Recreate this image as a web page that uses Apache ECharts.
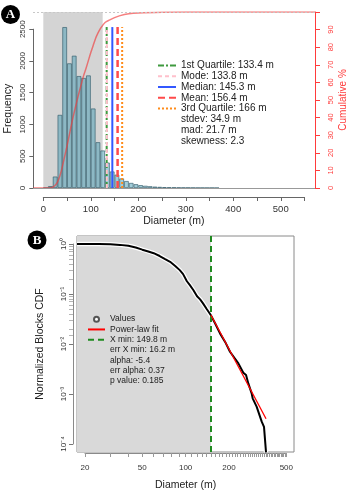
<!DOCTYPE html>
<html>
<head>
<meta charset="utf-8">
<script src="https://cdn.jsdelivr.net/npm/echarts@6/dist/echarts.min.js"></script>
<style>
  html, body { margin: 0; padding: 0; background: #fff; }
  #main { width: 353px; height: 500px; }
</style>
</head>
<body>
<div id="main"></div>
<script>
// ---- panel A : histogram of block diameters, 10 m bins ----
const binWidth = 10;
const binStarts = [0,10,20,30,40,50,60,70,80,90,100,110,120,130,140,150,160,170,180,190,200,210,220,230,240,250,260,270,280,290,300,310,320,330,340,350,360];
const binCounts = [0,30,180,1150,2530,1960,2080,1760,1730,1770,1250,720,590,400,260,210,150,110,80,60,45,35,28,22,18,14,11,9,7,6,5,4,3,3,2,2,1];

// cumulative curve (right axis, %)
const cumDiam = [-21,0,10,20,25,30,35,40,45,50,55,60,65,70,75,80,85,90,95,100,105,110,115,120,130,140,150,160,180,200,250,300,572];
const cumPct  = [0,0,0,0.5,1.5,3.5,7,12,18,24,30.5,37,43,48.5,54,59,64,68,72.5,77,81,85,88,90.5,94,95.5,96.8,97.8,99,99.5,99.9,100,100];

const statNames  = ['1st Quartile: 133.4 m', 'Mode: 133.8 m', 'Median: 145.3 m', 'Mean: 156.4 m', '3rd Quartile: 166 m'];
const statValues = [133.4, 133.8, 145.3, 156.4, 166];
const statExtra  = ['stdev: 34.9 m', 'mad: 21.7 m', 'skewness: 2.3'];
const shadeEndA  = 125;

// ---- panel B : normalized CDF (log-log) ----
const cdfDiam = [17.6,25,30,35,40,45,50,55,60,66,72,78,85,91,96,102,107,113,120,126,132,140,149.3,160,173.2,188,203.2,232.3,251.4,262.6,272.3,287.3,292,311,337.4,350,361.5];
const cdfVal  = [1,0.998,0.99,0.96,0.92,0.85,0.77,0.71,0.655,0.575,0.50,0.44,0.36,0.30,0.25,0.18,0.15,0.12,0.09,0.078,0.065,0.05,0.038,0.026,0.0163,0.011,0.0070,0.0041,0.00267,0.0024,0.00163,0.00103,0.00082,0.00056,0.00028,0.00022,0.000068];
const fitDiam = [149.8, 361.5];
const fitVal  = [0.038, 0.00032];
const xMin = 149.8;
const fitNames = ['err X min: 16.2 m', 'alpha: -5.4', 'err alpha: 0.37', 'p value: 0.185'];
const diamLabels = [20, 50, 100, 200, 500];
const cdfLabels = [1e-4, 1e-3, 1e-2, 1e-1, 1];

const FONT = '"Liberation Sans", Arial, sans-serif';
const RED = '#ff3b3b';

// plotting ranges (R style 4% padding)
const AX_MIN = -21.7, AX_MAX = 572, AY_MAX = 2767;
const BX_MIN = 17.6, BX_MAX = 565.4, BY_MIN = 6.92e-5, BY_MAX = 1.445;

// tick positions
const diamTicks = [];
for (let v = 20; v <= 500; v += 10) diamTicks.push(v);
const minorCdf = [];
[0.1, 0.01].forEach(d => { for (let k = 2; k <= 9; k++) minorCdf.push(+(k * d).toPrecision(3)); });
minorCdf.push(0.015);

const SUP = { '0': '\u2070', '1': '\u00b9', '2': '\u00b2', '3': '\u00b3', '4': '\u2074', '-': '\u207b' };
const sup = s => String(s).split('').map(c => SUP[c]).join('');

const statStyles = [
  { color: '#3f9a3f', width: 2, type: [6, 2, 2, 2] },
  { color: '#ffc0cb', width: 2, type: [4, 3] },
  { color: '#3358ff', width: 2, type: 'solid' },
  { color: '#ff4a4a', width: 2.5, type: [7, 4] },
  { color: '#ff8c1a', width: 2, type: [2, 2] }
];

const chart = echarts.init(document.getElementById('main'));

const series = [];
// gray shaded band, A
series.push({
  type: 'line', xAxisIndex: 0, yAxisIndex: 0, data: [], z: 1, silent: true,
  markArea: { silent: true, itemStyle: { color: '#d4d4d4' }, data: [[{ xAxis: 0 }, { xAxis: shadeEndA }]] }
});
series.push({
  type: 'bar', xAxisIndex: 0, yAxisIndex: 0, z: 2, barWidth: 4.75,
  data: binStarts.map((b, i) => [b + binWidth / 2, binCounts[i]]),
  itemStyle: { color: 'rgba(70,155,180,0.5)', borderColor: 'rgba(55,95,110,0.85)', borderWidth: 0.8 },
  markLine: { silent: true, symbol: 'none', label: { show: false },
    lineStyle: { color: '#999', width: 1, type: 'solid' }, data: [{ yAxis: 0 }] }
});
series.push({
  type: 'line', xAxisIndex: 0, yAxisIndex: 1, z: 4, symbol: 'none', smooth: 0.3,
  data: cumDiam.map((d, i) => [d, cumPct[i]]),
  lineStyle: { color: 'rgba(240,60,60,0.65)', width: 1.5 },
  markLine: { silent: true, symbol: 'none', label: { show: false },
    lineStyle: { color: '#c8c8c8', width: 1, type: [2, 2] }, data: [{ yAxis: 100 }] }
});
const statTop = Math.max(...binCounts);
statNames.forEach((name, i) => {
  series.push({
    type: 'line', name: name, xAxisIndex: 0, yAxisIndex: 0, z: 5, symbol: 'none',
    data: [[statValues[i], 0], [statValues[i], statTop]],
    lineStyle: statStyles[i], itemStyle: { color: statStyles[i].color, opacity: 0 }
  });
});
statExtra.forEach(name => {
  series.push({ type: 'line', name: name, xAxisIndex: 0, yAxisIndex: 0, data: [], symbol: 'none',
    lineStyle: { opacity: 0 }, itemStyle: { opacity: 0 } });
});

// panel B
series.push({
  type: 'line', xAxisIndex: 2, yAxisIndex: 3, data: [], z: 1, silent: true,
  markArea: { silent: true, itemStyle: { color: '#d9d9d9' }, data: [[{ xAxis: BX_MIN }, { xAxis: xMin }]] }
});
series.push({
  type: 'line', xAxisIndex: 2, yAxisIndex: 3, z: 3, symbol: 'none', silent: true,
  data: cdfDiam.map((d, i) => [d, cdfVal[i]]),
  lineStyle: { color: '#fff', width: 4.5 }
});
series.push({
  type: 'line', name: 'Values', xAxisIndex: 2, yAxisIndex: 3, z: 4, symbol: 'none',
  data: cdfDiam.map((d, i) => [d, cdfVal[i]]),
  lineStyle: { color: '#000', width: 2 }, itemStyle: { color: '#555' }
});
series.push({
  type: 'line', name: 'Power-law fit', xAxisIndex: 2, yAxisIndex: 3, z: 5, symbol: 'none',
  data: fitDiam.map((d, i) => [d, fitVal[i]]),
  lineStyle: { color: '#ff0000', width: 1.3 }, itemStyle: { color: '#ff0000', opacity: 0 }
});
series.push({
  type: 'line', name: 'X min: 149.8 m', xAxisIndex: 2, yAxisIndex: 3, z: 6, symbol: 'none', data: [],
  lineStyle: { color: '#1f8a1f', width: 2, type: [6, 4] }, itemStyle: { color: '#1f8a1f', opacity: 0 },
  markLine: { silent: true, symbol: 'none', label: { show: false },
    lineStyle: { color: '#1f8a1f', width: 2, type: [6, 4], opacity: 1 }, data: [{ xAxis: xMin }] }
});
fitNames.forEach(name => {
  series.push({ type: 'line', name: name, xAxisIndex: 2, yAxisIndex: 3, data: [], symbol: 'none',
    lineStyle: { opacity: 0 }, itemStyle: { opacity: 0 } });
});

const gridBase = { containLabel: false, outerBoundsMode: 'none' };

const option = {
  animation: false,
  textStyle: { fontFamily: FONT },
  grid: [
    Object.assign({ left: 33, top: 12, width: 282, height: 176 }, gridBase),          // A data
    Object.assign({ left: 43.3, top: 29.2, width: 261.2, height: 158.8 }, gridBase),  // A axis frame
    Object.assign({ left: 77, top: 236, width: 217, height: 216, show: true, borderColor: '#8a8a8a', borderWidth: 1, backgroundColor: '#fff' }, gridBase), // B data
    Object.assign({ left: 85, top: 244, width: 201.3, height: 200 }, gridBase)         // B axis frame
  ],
  xAxis: [
    { gridIndex: 0, type: 'value', min: AX_MIN, max: AX_MAX, show: false },
    { gridIndex: 1, type: 'value', min: 0, max: 550, interval: 50, position: 'bottom', offset: 9,
      axisLine: { show: true, onZero: false, lineStyle: { color: '#666' } },
      axisTick: { show: true, length: 4, lineStyle: { color: '#666' } },
      axisLabel: { fontSize: 9.5, color: '#333', margin: 7,
        formatter: v => (v % 100 === 0 && v <= 500) ? String(v) : '' },
      splitLine: { show: false },
      name: 'Diameter (m)', nameLocation: 'middle', nameGap: 19, nameMoveOverlap: false,
      nameTextStyle: { fontSize: 10.5, color: '#222' } },
    { gridIndex: 2, type: 'log', min: BX_MIN, max: BX_MAX, show: false },
    { gridIndex: 3, type: 'log', min: 20, max: 500, position: 'bottom', offset: 9,
      axisLine: { show: true, onZero: false, lineStyle: { color: '#8a8a8a' } },
      axisTick: { show: true, length: 4, customValues: diamTicks, lineStyle: { color: '#999' } },
      axisLabel: { fontSize: 8, color: '#333', margin: 11, customValues: diamLabels },
      splitLine: { show: false },
      name: 'Diameter (m)', nameLocation: 'middle', nameGap: 27, nameMoveOverlap: false,
      nameTextStyle: { fontSize: 10.5, color: '#222' } }
  ],
  yAxis: [
    { gridIndex: 0, type: 'value', min: 0, max: AY_MAX, show: false },
    { gridIndex: 0, type: 'value', min: 0, max: 100, interval: 10, position: 'right',
      axisLine: { show: true, onZero: false, lineStyle: { color: RED } },
      axisTick: { show: true, length: 5, lineStyle: { color: RED } },
      axisLabel: { fontSize: 7.5, color: RED, rotate: 90, margin: 12, formatter: v => v === 100 ? '' : String(v) },
      splitLine: { show: false },
      name: 'Cumulative %', nameLocation: 'middle', nameGap: 23, nameRotate: 90, nameMoveOverlap: false,
      nameTextStyle: { fontSize: 10, color: RED } },
    { gridIndex: 1, type: 'value', min: 0, max: 2500, interval: 500, position: 'left', offset: 10,
      axisLine: { show: true, onZero: false, lineStyle: { color: '#666' } },
      axisTick: { show: true, length: 4, lineStyle: { color: '#666' } },
      axisLabel: { fontSize: 8, color: '#333', rotate: 90, margin: 7, formatter: v => String(v) },
      splitLine: { show: false },
      name: 'Frequency', nameLocation: 'middle', nameGap: 20, nameRotate: 90, nameMoveOverlap: false,
      nameTextStyle: { fontSize: 10.5, color: '#222' } },
    { gridIndex: 2, type: 'log', min: BY_MIN, max: BY_MAX, show: false },
    { gridIndex: 3, type: 'log', min: 1e-4, max: 1, position: 'left', offset: 12,
      axisLine: { show: true, onZero: false, lineStyle: { color: '#8a8a8a' } },
      axisTick: { show: true, length: 4, customValues: cdfLabels, lineStyle: { color: '#777' } },
      axisLabel: { color: '#333', fontSize: 8, rotate: 90, margin: 5, customValues: cdfLabels,
        formatter: v => '10' + sup(Math.round(Math.log10(v))) },
      splitLine: { show: false },
      name: 'Normalized Blocks CDF', nameLocation: 'middle', nameGap: 27, nameRotate: 90, nameMoveOverlap: false,
      nameTextStyle: { fontSize: 10.5, color: '#222' } },
    { gridIndex: 3, type: 'log', min: 1e-4, max: 1, position: 'left', offset: 12,
      axisLine: { show: false },
      axisTick: { show: true, length: 4, customValues: minorCdf, lineStyle: { color: '#b5b5b5' } },
      axisLabel: { show: false }, splitLine: { show: false } }
  ],
  legend: [
    { left: 157, top: 60, orient: 'vertical', padding: 0, itemWidth: 18, itemHeight: 10, itemGap: 0,
      selectedMode: false, textStyle: { fontSize: 10, color: '#222', lineHeight: 10.8 },
      data: statNames.concat(statExtra) },
    { left: 87, top: 314, orient: 'vertical', padding: 0, itemWidth: 17, itemHeight: 5, itemGap: 0,
      selectedMode: false, textStyle: { fontSize: 8.5, color: '#222', lineHeight: 10.3 },
      data: [{ name: 'Values', icon: 'emptyCircle' }, 'Power-law fit', 'X min: 149.8 m'].concat(fitNames) }
  ],
  graphic: [
    { type: 'circle', shape: { cx: 10.5, cy: 14.5, r: 9.5 }, style: { fill: '#000' } },
    { type: 'text', x: 10.5, y: 15, style: { text: 'A', fill: '#fff', font: 'bold 13px "Liberation Serif", serif', align: 'center', verticalAlign: 'middle' } },
    { type: 'circle', shape: { cx: 37, cy: 240, r: 9.5 }, style: { fill: '#000' } },
    { type: 'text', x: 37, y: 240.5, style: { text: 'B', fill: '#fff', font: 'bold 13px "Liberation Serif", serif', align: 'center', verticalAlign: 'middle' } }
  ],
  series: series
};

chart.setOption(option);
</script>
</body>
</html>
